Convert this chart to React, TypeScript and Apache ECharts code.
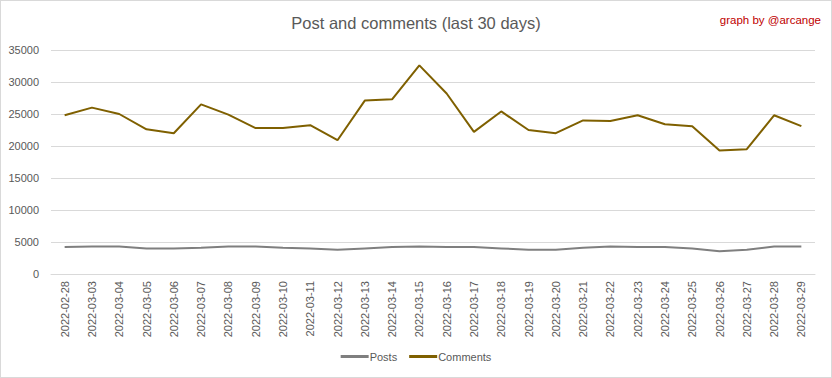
import React, { useEffect, useRef } from "react";
import * as echarts from "echarts";

const categories = [
  "2022-02-28", "2022-03-03", "2022-03-04", "2022-03-05", "2022-03-06", "2022-03-07",
  "2022-03-08", "2022-03-09", "2022-03-10", "2022-03-11", "2022-03-12", "2022-03-13",
  "2022-03-14", "2022-03-15", "2022-03-16", "2022-03-17", "2022-03-18", "2022-03-19",
  "2022-03-20", "2022-03-21", "2022-03-22", "2022-03-23", "2022-03-24", "2022-03-25",
  "2022-03-26", "2022-03-27", "2022-03-28", "2022-03-29",
];

const posts = [
  4200, 4300, 4300, 4000, 4000, 4100, 4300, 4300, 4100, 4000, 3800, 4000, 4200, 4300,
  4200, 4200, 4000, 3800, 3800, 4100, 4300, 4200, 4200, 4000, 3550, 3800, 4300, 4300,
];

const comments = [
  24800, 26000, 25000, 22600, 22000, 26500, 24900, 22800, 22800, 23250, 20900, 27100,
  27300, 32600, 28200, 22200, 25400, 22500, 22000, 24000, 23900, 24800, 23400, 23100,
  19300, 19500, 24800, 23100,
];

const FONT = "'Liberation Sans', Arial, sans-serif";

export default function App() {
  const ref = useRef<HTMLDivElement>(null);
  useEffect(() => {
    if (!ref.current) return;
    const chart = echarts.init(ref.current, null, { renderer: "svg" });
    chart.setOption({
      animation: false,
      backgroundColor: "#ffffff",
      textStyle: { fontFamily: FONT },
      title: [
        {
          text: "Post and comments (last 30 days)",
          left: "center",
          top: 8,
          textStyle: { color: "#595959", fontSize: 16.5, fontWeight: "normal", fontFamily: FONT },
        },
        {
          text: "graph by @arcange",
          right: 5,
          top: 8,
          textStyle: { color: "#C00000", fontSize: 11.5, fontWeight: "normal", fontFamily: FONT },
        },
      ],
      legend: {
        bottom: 10,
        left: "center",
        itemWidth: 28,
        itemHeight: 3,
        itemGap: 12,
        icon: "rect",
        textStyle: { color: "#595959", fontSize: 11, fontFamily: FONT, padding: [0, 0, 0, -4] },
        data: ["Posts", "Comments"],
      },
      grid: { left: 50, right: 16, top: 49, bottom: 103, containLabel: false },
      xAxis: {
        type: "category",
        data: categories,
        boundaryGap: true,
        axisLine: { lineStyle: { color: "#D9D9D9" } },
        axisTick: { show: false },
        axisLabel: { rotate: 90, color: "#595959", fontSize: 11, fontFamily: FONT, margin: 7, interval: 0 },
      },
      yAxis: {
        type: "value",
        min: 0,
        max: 35000,
        interval: 5000,
        axisLine: { show: false },
        axisTick: { show: false },
        axisLabel: {
          color: "#595959",
          fontSize: 11,
          fontFamily: FONT,
          margin: 12,
          formatter: (v: number) => String(v),
        },
        splitLine: { lineStyle: { color: "#D9D9D9", width: 1 } },
      },
      series: [
        {
          name: "Posts",
          type: "line",
          data: posts,
          symbol: "none",
          lineStyle: { color: "#7F7F7F", width: 2 },
          itemStyle: { color: "#7F7F7F" },
        },
        {
          name: "Comments",
          type: "line",
          data: comments,
          symbol: "none",
          lineStyle: { color: "#7F6000", width: 2 },
          itemStyle: { color: "#7F6000" },
        },
      ],
    });
    return () => chart.dispose();
  }, []);
  return (
    <div
      style={{
        position: "fixed",
        left: 0,
        top: 0,
        width: 832,
        height: 378,
        boxSizing: "border-box",
        border: "1px solid #D9D9D9",
        background: "#fff",
      }}
    >
      <div ref={ref} style={{ width: 830, height: 376 }} />
    </div>
  );
}
